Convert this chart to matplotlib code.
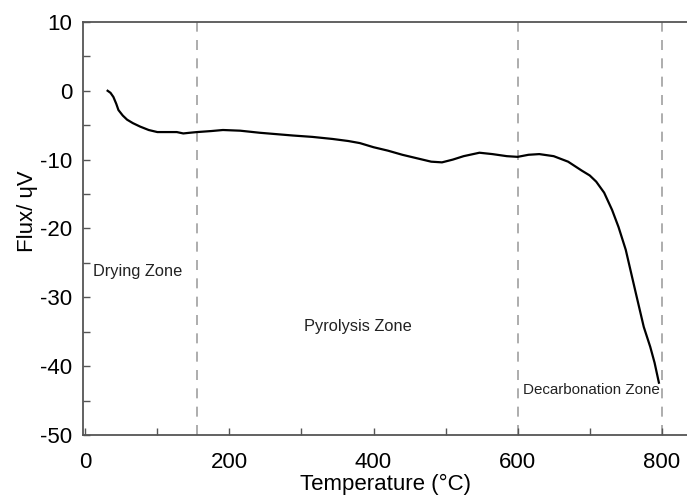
import matplotlib.pyplot as plt
from matplotlib.ticker import MultipleLocator

plt.rcParams['font.family'] = ['Liberation Sans', 'DejaVu Sans']
plt.rcParams['axes.unicode_minus'] = False

# ---------- Data ----------
temperature = [31, 35, 39, 43, 46, 52, 58, 66, 76, 88, 100, 115, 127, 136, 145, 155,
               175, 191, 215, 242, 265, 288, 315, 343, 365, 381, 400, 420, 440, 460,
               480, 495, 510, 525, 547, 565, 585, 600, 615, 630, 650, 670, 689, 700,
               709, 720, 731, 740, 750, 764, 775, 784, 790, 796]
flux = [0.0, -0.3, -0.9, -1.9, -2.8, -3.6, -4.2, -4.7, -5.2, -5.7, -6.0, -6.0, -6.0,
        -6.2, -6.1, -6.0, -5.85, -5.7, -5.8, -6.1, -6.3, -6.5, -6.7, -7.0, -7.3,
        -7.6, -8.2, -8.7, -9.3, -9.8, -10.3, -10.4, -10.0, -9.5, -9.0, -9.2, -9.5,
        -9.6, -9.3, -9.2, -9.5, -10.3, -11.6, -12.3, -13.2, -14.8, -17.3, -19.8,
        -23.1, -29.4, -34.3, -37.2, -39.5, -42.4]

zone_bounds = [155, 600, 800]
zone_names = ["Drying Zone", "Pyrolysis Zone", "Decarbonation Zone"]
zone_text_x = [11, 378, 607]
zone_text_y = [-26.2, -34.3, -43.5]
zone_text_ha = ["left", "center", "left"]

# font sizes for the zone captions (the last one is drawn a bit narrower)
zone_fs = [11.8, 11.8, 10.9]

# ---------- Figure ----------
fig = plt.figure(figsize=(6.87, 4.98), dpi=100)
ax = fig.add_axes([0.121, 0.1265, 0.879, 0.8295])

for xb in zone_bounds:
    ax.axvline(xb, color="#a0a0a0", lw=1.2, ls=(0, (6, 5)), zorder=1)

ax.plot(temperature, flux, color="black", lw=1.6, zorder=3)

for name, tx, ty, ha, fs in zip(zone_names, zone_text_x, zone_text_y, zone_text_ha, zone_fs):
    ax.text(tx, ty, name, fontsize=fs, ha=ha, va="center", color="#222222")

ax.set_xlim(-3, 835)
ax.set_ylim(-50, 10)
ax.xaxis.set_major_locator(MultipleLocator(200))
ax.xaxis.set_minor_locator(MultipleLocator(100))
ax.yaxis.set_major_locator(MultipleLocator(10))
ax.yaxis.set_minor_locator(MultipleLocator(5))

ax.spines['right'].set_visible(False)
for s in ['left', 'bottom', 'top']:
    ax.spines[s].set_color("#555555")
    ax.spines[s].set_linewidth(1.3)

ax.tick_params(axis='both', which='both', direction='in', color="#555555",
               labelsize=16, width=1.0)
ax.tick_params(which='major', length=5)
ax.tick_params(which='minor', length=5)
ax.tick_params(axis='x', which='both', top=False, pad=12)
ax.tick_params(axis='y', which='both', pad=8)

ax.set_xlabel("Temperature (°C)", fontsize=16, labelpad=1)
ax.set_ylabel("Flux/ ɥV", fontsize=16)
ax.yaxis.set_label_coords(-0.075, 0.542)

fig.savefig("out.png", dpi=100)
